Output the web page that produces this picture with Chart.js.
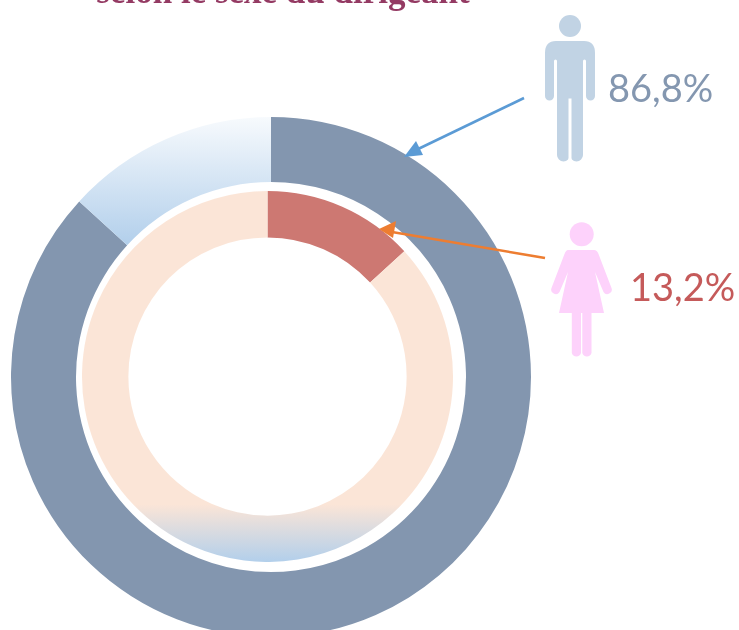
<!DOCTYPE html>
<html><head><meta charset="utf-8">
<script src="https://cdn.jsdelivr.net/npm/chart.js@4"></script>
<style>
html,body{margin:0;padding:0;width:739px;height:630px;overflow:hidden;background:#fff}
canvas{position:absolute}
#outer{left:11px;top:117px}
#inner{left:82px;top:191px}
svg{position:absolute;left:0;top:0}
</style></head><body>
<canvas id="outer" width="520" height="520" style="width:520px;height:520px"></canvas>
<canvas id="inner" width="371" height="371" style="width:371px;height:371px"></canvas>
<svg width="739" height="630" viewBox="0 0 739 630">
  <text x="283" y="3" text-anchor="middle" font-family="Liberation Serif" font-weight="bold" font-size="35" fill="#943a63" id="title"></text>
  <g fill="#c1d3e4">
    <circle cx="570" cy="26" r="11"/>
    <path d="M556 41H584Q595 41 595 53V96a4.500 4.500 0 0 1-9 0V61a1.500 1.500 0 0 0-3 0V155a6.500 6.500 0 0 1-13 0V100a0 0 0 0 0 0 0H570V155a6.500 6.500 0 0 1-13 0V61a1.500 1.500 0 0 0-3 0V96a4.500 4.500 0 0 1-9 0V53Q545 41 556 41Z"/>
    <path d="M557 60H583V98H557Z"/>
  </g>
  <path d="M568.500 98.500h3V162h-3z" fill="#fff"/>
  <g fill="#fdd2fb">
    <circle cx="581.700" cy="234.300" r="12"/>
    <path d="M568 250H594Q597 250 598.500 254L611.500 288a4.500 4.500 0 0 1-8 4L595 272 604 313H591.500V353a4.800 4.800 0 0 1-9.200 0V313H581V353a4.800 4.800 0 0 1-9.200 0V313H559L568 272 559.500 292a4.500 4.500 0 0 1-8-4L564.500 254Q566 250 568 250Z"/>
  </g>
  <line x1="524" y1="98" x2="414" y2="151" stroke="#5b9bd5" stroke-width="2.600"/>
  <polygon points="404,157 416,141 423,155" fill="#5b9bd5"/>
  <line x1="545" y1="258" x2="392" y2="232" stroke="#ed7d31" stroke-width="2.600"/>
  <polygon points="379,229 396,221 393,238" fill="#ed7d31"/>
  <text id="lblM" x="608" y="102" font-family="Lato" font-size="38" fill="#8497b0"></text>
  <text id="lblF" x="630" y="301" font-family="Lato" font-size="38" fill="#c55a5a"></text>
</svg>
<script>
const titleText = "selon le sexe du dirigeant";
const categories = ["Hommes", "Femmes"];
const outerValues = [86.8, 13.2];
const innerValues = [13.2, 86.8];
const labelMen = "86,8%";
const labelWomen = "13,2%";

document.getElementById('title').textContent = titleText;
document.getElementById('lblM').textContent = labelMen;
document.getElementById('lblF').textContent = labelWomen;

Chart.defaults.animation = false;

const oc = document.getElementById('outer').getContext('2d');
const og = oc.createLinearGradient(0, 0, 0, 128);
og.addColorStop(0, '#f7fafd');
og.addColorStop(1, '#b2cfeb');

const ic = document.getElementById('inner').getContext('2d');
const ig = ic.createLinearGradient(0, 0, 0, 371);
ig.addColorStop(0, '#fbe5d7');
ig.addColorStop(0.845, '#fbe5d7');
ig.addColorStop(1, '#b2cfeb');

const common = {
  responsive: false,
  animation: false,
  layout: { padding: 0 },
  plugins: { legend: { display: false }, tooltip: { enabled: false }, title: { display: false } }
};

new Chart(oc, {
  type: 'doughnut',
  data: { labels: categories, datasets: [{ data: outerValues, backgroundColor: ['#8396af', og], borderWidth: 0 }] },
  options: { ...common, cutout: '75%' }
});
new Chart(ic, {
  type: 'doughnut',
  data: { labels: categories.slice().reverse(), datasets: [{ data: innerValues, backgroundColor: ['#cd7872', ig], borderWidth: 0 }] },
  options: { ...common, cutout: '75%' }
});
</script>
</body></html>
